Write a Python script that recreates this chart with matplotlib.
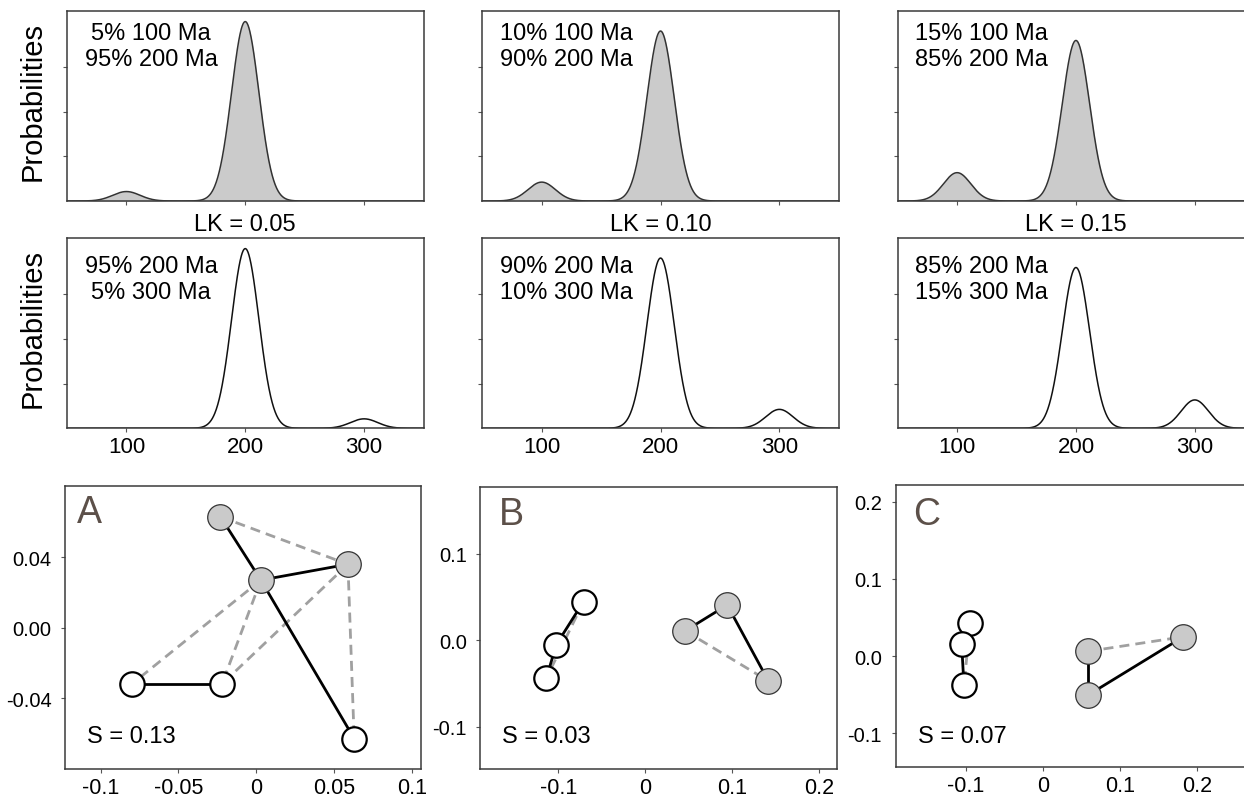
import numpy as np
import matplotlib
matplotlib.use('Agg')
from matplotlib import pyplot as plt

plt.rcParams['font.family'] = ['Liberation Sans', 'DejaVu Sans']
plt.rcParams['axes.unicode_minus'] = False

# Age spectra: two-component mixtures, same peak width everywhere
ages = [100, 200, 300]
minor_frac = [0.05, 0.10, 0.15]
peak_sd = 11.5
lk_labels = ['LK = 0.05', 'LK = 0.10', 'LK = 0.15']
top_notes = ['5% 100 Ma\n95% 200 Ma', '10% 100 Ma\n90% 200 Ma', '15% 100 Ma\n85% 200 Ma']
bot_notes = ['95% 200 Ma\n5% 300 Ma', '90% 200 Ma\n10% 300 Ma', '85% 200 Ma\n15% 300 Ma']
age_ticks = [100, 200, 300]

# MDS maps: points 0-2 are the white samples, 3-5 the grey ones
mds_x_a = [-0.080, -0.022, 0.063, -0.023, 0.059, 0.003]
mds_y_a = [-0.032, -0.032, -0.063, 0.063, 0.036, 0.027]
solid_a = [(0, 1), (3, 5), (5, 2), (5, 4)]
dashed_a = [(3, 4), (5, 0), (5, 1), (4, 1), (4, 2)]

mds_x_b = [-0.071, -0.1025, -0.114, 0.046, 0.0945, 0.142]
mds_y_b = [0.045, -0.005, -0.044, 0.011, 0.041, -0.047]
solid_b = [(0, 1), (1, 2), (3, 4), (4, 5)]
dashed_b = [(3, 5), (0, 2)]

mds_x_c = [-0.094, -0.105, -0.102, 0.058, 0.058, 0.182]
mds_y_c = [0.043, 0.016, -0.038, 0.006, -0.051, 0.025]
solid_c = [(0, 1), (1, 2), (3, 4), (4, 5)]
dashed_c = [(3, 5), (0, 2)]

panel_letters = ['A', 'B', 'C']
stress = ['S = 0.13', 'S = 0.03', 'S = 0.07']
xticks_a = [-0.1, -0.05, 0, 0.05, 0.1]
xticklabels_a = ['-0.1', '-0.05', '0', '0.05', '0.1']
yticks_a = [0.04, 0.0, -0.04]
yticklabels_a = ['0.04', '0.00', '-0.04']
xticks_bc = [-0.1, 0, 0.1, 0.2]
xticklabels_bc = ['-0.1', '0', '0.1', '0.2']
yticks_b = [0.1, 0.0, -0.1]
yticklabels_b = ['0.1', '0.0', '-0.1']
yticks_c = [0.2, 0.1, 0.0, -0.1]
yticklabels_c = ['0.2', '0.1', '0.0', '-0.1']

W, H = 1244, 803
fig = plt.figure(figsize=(W / 100, H / 100), dpi=100)


def add_ax(left, top, right, bottom):
    return fig.add_axes([left / W, 1 - bottom / H, (right - left) / W, (bottom - top) / H])


def style_frame(ax):
    for s in ax.spines.values():
        s.set_color('#3a3a3a')
        s.set_linewidth(1.1)
    ax.tick_params(direction='out', length=3.2, width=0.8, color='#555555')


def gauss(x, mu):
    return np.exp(-0.5 * ((x - mu) / peak_sd) ** 2) / (peak_sd * np.sqrt(2 * np.pi))


x = np.linspace(50, 350, 1200)
lefts = [67, 482.3, 897.7]
for i in range(3):
    f = minor_frac[i]
    # top row: 100 + 200 Ma, filled
    ax = add_ax(lefts[i], 12, lefts[i] + 356.5, 202)
    dens = f * gauss(x, ages[0]) + (1 - f) * gauss(x, ages[1])
    ax.fill_between(x, dens, color='#cbcbcb', lw=0)
    ax.plot(x, dens, color='#333333', lw=1.1)
    ax.set_xlim(50, 350)
    ax.set_ylim(0, 0.0349)
    ax.set_xticks(age_ticks)
    ax.set_xticklabels([])
    ax.set_yticks(np.arange(1, 4) * 0.00818)
    ax.set_yticklabels([])
    style_frame(ax)
    ax.text(0.236, 0.815, top_notes[i], transform=ax.transAxes, ha='center',
            va='center', fontsize=17, linespacing=1.2)
    if i == 0:
        ax.text(-0.0975, 0.528, 'Probabilities', transform=ax.transAxes,
                rotation=90, ha='center', va='center', fontsize=21)

    # second row: 200 + 300 Ma, outline only
    ax = add_ax(lefts[i], 239, lefts[i] + 356.5, 429.3)
    dens = (1 - f) * gauss(x, ages[1]) + f * gauss(x, ages[2])
    ax.plot(x, dens, color='#111111', lw=1.1)
    ax.set_xlim(50, 350)
    ax.set_ylim(0, 0.0349)
    ax.set_xticks(age_ticks)
    ax.set_yticks(np.arange(1, 4) * 0.00818)
    ax.set_yticklabels([])
    style_frame(ax)
    ax.tick_params(axis='x', labelsize=16, pad=2)
    ax.set_title(lk_labels[i], fontsize=17, pad=5.8)
    ax.text(0.236, 0.785, bot_notes[i], transform=ax.transAxes, ha='center',
            va='center', fontsize=17, linespacing=1.2)
    if i == 0:
        ax.text(-0.0975, 0.532, 'Probabilities', transform=ax.transAxes,
                rotation=90, ha='center', va='center', fontsize=21)

# bottom row: MDS maps
mds = [
    (mds_x_a, mds_y_a, solid_a, dashed_a, (-0.123, 0.106), (-0.0803, 0.0803),
     xticks_a, xticklabels_a, yticks_a, yticklabels_a, (65, 487.3, 421, 770), 0.033, 0.908, 0.118),
    (mds_x_b, mds_y_b, solid_b, dashed_b, (-0.190, 0.2204), (-0.1487, 0.178),
     xticks_bc, xticklabels_bc, yticks_b, yticklabels_b, (480.3, 487.5, 836.5, 770), 0.053, 0.903, 0.118),
    (mds_x_c, mds_y_c, solid_c, dashed_c, (-0.1906, 0.2695), (-0.1434, 0.222),
     xticks_bc, xticklabels_bc, yticks_c, yticklabels_c, (895.5, 485.7, 1251, 767.7), 0.050, 0.896, 0.11),
]

for j, (mx, my, solid, dashed, xl, yl, xt, xtl, yt, ytl, box, lx, ly, sy) in enumerate(mds):
    ax = add_ax(*box)
    for a, b in dashed:
        ax.plot([mx[a], mx[b]], [my[a], my[b]], color='#a0a0a0', lw=2.0,
                linestyle=(0, (3.6, 2.2)), zorder=1)
    for a, b in solid:
        ax.plot([mx[a], mx[b]], [my[a], my[b]], color='black', lw=2.0, zorder=2)
    ax.plot(mx[:3], my[:3], 'o', ms=17.6, mfc='white', mec='black', mew=1.6, zorder=3)
    ax.plot(mx[3:], my[3:], 'o', ms=18.4, mfc='#cacaca', mec='#333333', mew=0.9, zorder=3)
    ax.set_xlim(*xl)
    ax.set_ylim(*yl)
    ax.set_xticks(xt)
    ax.set_xticklabels(xtl)
    ax.set_yticks(yt)
    ax.set_yticklabels(ytl)
    style_frame(ax)
    ax.tick_params(axis='x', labelsize=15.5, pad=2.5)
    ax.tick_params(axis='y', labelsize=14.5, pad=6.5)
    ax.text(lx, ly, panel_letters[j], transform=ax.transAxes, ha='left', va='center',
            fontsize=27, color='#5c5049')
    ax.text(0.062, sy, stress[j], transform=ax.transAxes, ha='left', va='center',
            fontsize=17)

fig.savefig('out.png', dpi=100)
